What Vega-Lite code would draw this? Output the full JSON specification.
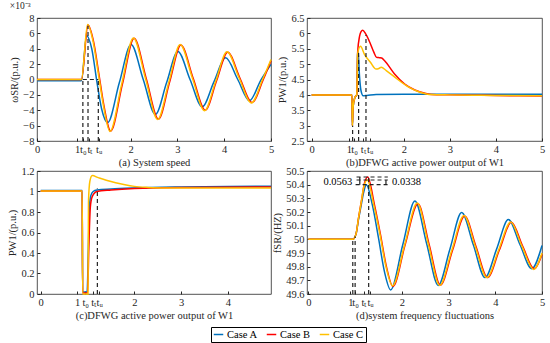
{
"$schema": "https://vega.github.io/schema/vega-lite/v6.json",
"background": "white",
"padding": {"left": 7, "top": 0, "right": 0, "bottom": 0},
"config": {
  "font": "Liberation Serif",
  "view": {"stroke": "#262626", "strokeWidth": 0.8},
  "axis": {"grid": false, "domain": false, "labelFont": "Liberation Serif", "labelFontSize": 10.5, "labelColor": "#262626", "titleFont": "Liberation Serif", "titleFontSize": 10.5, "titleFontWeight": "normal", "titleColor": "#262626", "tickColor": "#262626", "tickSize": -3, "labelPadding": 6, "titlePadding": 3, "labelOverlap": false, "labelFlush": false},
  "title": {"font": "Liberation Serif", "fontWeight": "normal", "fontSize": 9.5, "color": "#262626"}
},
"datasets": {
  "a": [
    {"case":"Case A","x":0,"y":-0.15},{"case":"Case A","x":0.95,"y":-0.15},{"case":"Case A","x":1.06,"y":5.7},{"case":"Case A","x":1.17,"y":4.0},{"case":"Case A","x":1.28,"y":-0.3},{"case":"Case A","x":1.38,"y":-3.8},{"case":"Case A","x":1.51,"y":-5.6},{"case":"Case A","x":1.76,"y":-0.4},{"case":"Case A","x":2.01,"y":4.55},{"case":"Case A","x":2.27,"y":0},{"case":"Case A","x":2.53,"y":-4.55},{"case":"Case A","x":2.77,"y":-0.4},{"case":"Case A","x":3.01,"y":3.65},{"case":"Case A","x":3.27,"y":0},{"case":"Case A","x":3.53,"y":-3.56},{"case":"Case A","x":3.78,"y":-0.3},{"case":"Case A","x":4.03,"y":2.82},{"case":"Case A","x":4.29,"y":0},{"case":"Case A","x":4.54,"y":-2.78},{"case":"Case A","x":4.78,"y":-0.1},{"case":"Case A","x":5.0,"y":1.97},
    {"case":"Case B","x":0,"y":0},{"case":"Case B","x":0.95,"y":0},{"case":"Case B","x":1.09,"y":7.1},{"case":"Case B","x":1.21,"y":4.9},{"case":"Case B","x":1.32,"y":0.8},{"case":"Case B","x":1.43,"y":-3.4},{"case":"Case B","x":1.575,"y":-6.7},{"case":"Case B","x":1.825,"y":-0.6},{"case":"Case B","x":2.075,"y":5.37},{"case":"Case B","x":2.335,"y":0.1},{"case":"Case B","x":2.595,"y":-5.15},{"case":"Case B","x":2.835,"y":-0.3},{"case":"Case B","x":3.075,"y":4.5},{"case":"Case B","x":3.335,"y":0.2},{"case":"Case B","x":3.595,"y":-3.99},{"case":"Case B","x":3.835,"y":-0.2},{"case":"Case B","x":4.075,"y":3.56},{"case":"Case B","x":4.335,"y":0.2},{"case":"Case B","x":4.595,"y":-3.0},{"case":"Case B","x":4.835,"y":0},{"case":"Case B","x":5.0,"y":2.45},
    {"case":"Case C","x":0,"y":0},{"case":"Case C","x":0.95,"y":0},{"case":"Case C","x":1.08,"y":7.15},{"case":"Case C","x":1.2,"y":4.9},{"case":"Case C","x":1.31,"y":0.8},{"case":"Case C","x":1.42,"y":-3.4},{"case":"Case C","x":1.56,"y":-6.75},{"case":"Case C","x":1.81,"y":-0.6},{"case":"Case C","x":2.06,"y":5.4},{"case":"Case C","x":2.32,"y":0.1},{"case":"Case C","x":2.58,"y":-5.2},{"case":"Case C","x":2.82,"y":-0.3},{"case":"Case C","x":3.06,"y":4.55},{"case":"Case C","x":3.32,"y":0.2},{"case":"Case C","x":3.58,"y":-4.05},{"case":"Case C","x":3.82,"y":-0.2},{"case":"Case C","x":4.06,"y":3.6},{"case":"Case C","x":4.32,"y":0.2},{"case":"Case C","x":4.58,"y":-3.05},{"case":"Case C","x":4.82,"y":0},{"case":"Case C","x":5.0,"y":2.6}
  ],
  "av": [{"x":0.98,"y":-8,"y2":0},{"x":1.09,"y":-8,"y2":7.0},{"x":1.31,"y":-8,"y2":0}],
  "ah": [{"x":0.98,"x2":1.31,"y":0}],
  "b": [
    {"case":"Case A","x":0,"y":4.0},{"case":"Case A","x":0.875,"y":4.0},{"case":"Case A","x":0.885,"y":3.0},{"case":"Case A","x":0.9,"y":3.6},{"case":"Case A","x":0.94,"y":3.92},{"case":"Case A","x":0.98,"y":4.0},{"case":"Case A","x":1.0,"y":5.35},{"case":"Case A","x":1.01,"y":5.4},{"case":"Case A","x":1.04,"y":4.6},{"case":"Case A","x":1.07,"y":4.15},{"case":"Case A","x":1.12,"y":3.97},{"case":"Case A","x":1.2,"y":3.98},{"case":"Case A","x":1.4,"y":4.01},{"case":"Case A","x":2.0,"y":4.02},{"case":"Case A","x":3.0,"y":4.02},{"case":"Case A","x":4.0,"y":4.02},{"case":"Case A","x":5.0,"y":4.02},
    {"case":"Case B","x":0,"y":4.0},{"case":"Case B","x":0.875,"y":4.0},{"case":"Case B","x":0.885,"y":3.0},{"case":"Case B","x":0.9,"y":3.6},{"case":"Case B","x":0.94,"y":3.92},{"case":"Case B","x":0.98,"y":4.0},{"case":"Case B","x":1.0,"y":5.4},{"case":"Case B","x":1.04,"y":5.9},{"case":"Case B","x":1.07,"y":6.05},{"case":"Case B","x":1.11,"y":6.1},{"case":"Case B","x":1.17,"y":5.99},{"case":"Case B","x":1.26,"y":5.72},{"case":"Case B","x":1.35,"y":5.39},{"case":"Case B","x":1.41,"y":5.22},{"case":"Case B","x":1.47,"y":5.21},{"case":"Case B","x":1.52,"y":5.2},{"case":"Case B","x":1.58,"y":5.12},{"case":"Case B","x":1.8,"y":4.68},{"case":"Case B","x":2.02,"y":4.35},{"case":"Case B","x":2.24,"y":4.16},{"case":"Case B","x":2.46,"y":4.05},{"case":"Case B","x":2.6,"y":4.01},{"case":"Case B","x":3.0,"y":4.0},{"case":"Case B","x":3.5,"y":3.99},{"case":"Case B","x":4.0,"y":3.98},{"case":"Case B","x":5.0,"y":3.96},
    {"case":"Case C","x":0,"y":4.0},{"case":"Case C","x":0.875,"y":4.0},{"case":"Case C","x":0.885,"y":3.0},{"case":"Case C","x":0.9,"y":3.6},{"case":"Case C","x":0.94,"y":3.92},{"case":"Case C","x":0.98,"y":4.0},{"case":"Case C","x":1.0,"y":5.35},{"case":"Case C","x":1.06,"y":5.58},{"case":"Case C","x":1.15,"y":5.31},{"case":"Case C","x":1.28,"y":5.05},{"case":"Case C","x":1.4,"y":4.84},{"case":"Case C","x":1.46,"y":4.86},{"case":"Case C","x":1.51,"y":4.9},{"case":"Case C","x":1.62,"y":4.79},{"case":"Case C","x":1.87,"y":4.5},{"case":"Case C","x":2.09,"y":4.27},{"case":"Case C","x":2.31,"y":4.11},{"case":"Case C","x":2.49,"y":4.03},{"case":"Case C","x":2.6,"y":4.01},{"case":"Case C","x":3.0,"y":4.0},{"case":"Case C","x":3.5,"y":3.99},{"case":"Case C","x":4.0,"y":3.98},{"case":"Case C","x":5.0,"y":3.97}
  ],
  "bv": [{"x":0.89,"y":2.5,"y2":3.0},{"x":1.02,"y":2.5,"y2":5.4},{"x":1.18,"y":2.5,"y2":5.95}],
  "c": [
    {"case":"Case A","x":0,"y":1.01},{"case":"Case A","x":0.885,"y":1.01},{"case":"Case A","x":0.895,"y":0.02},{"case":"Case A","x":0.99,"y":0.02},{"case":"Case A","x":1.02,"y":0.5},{"case":"Case A","x":1.04,"y":0.85},{"case":"Case A","x":1.07,"y":0.96},{"case":"Case A","x":1.12,"y":1.0},{"case":"Case A","x":1.2,"y":1.015},{"case":"Case A","x":1.5,"y":1.025},{"case":"Case A","x":2.0,"y":1.035},{"case":"Case A","x":3.0,"y":1.045},{"case":"Case A","x":4.0,"y":1.05},{"case":"Case A","x":4.92,"y":1.052},
    {"case":"Case B","x":0,"y":1.005},{"case":"Case B","x":0.885,"y":1.005},{"case":"Case B","x":0.895,"y":0.01},{"case":"Case B","x":1.0,"y":0.01},{"case":"Case B","x":1.03,"y":0.5},{"case":"Case B","x":1.06,"y":0.85},{"case":"Case B","x":1.1,"y":0.95},{"case":"Case B","x":1.2,"y":1.0},{"case":"Case B","x":1.5,"y":1.015},{"case":"Case B","x":2.0,"y":1.03},{"case":"Case B","x":3.0,"y":1.04},{"case":"Case B","x":4.92,"y":1.045},
    {"case":"Case C","x":0,"y":1.005},{"case":"Case C","x":0.885,"y":1.005},{"case":"Case C","x":0.895,"y":0.0},{"case":"Case C","x":1.01,"y":0.0},{"case":"Case C","x":1.02,"y":0.9},{"case":"Case C","x":1.05,"y":1.1},{"case":"Case C","x":1.1,"y":1.155},{"case":"Case C","x":1.23,"y":1.135},{"case":"Case C","x":1.4,"y":1.11},{"case":"Case C","x":1.6,"y":1.085},{"case":"Case C","x":1.8,"y":1.065},{"case":"Case C","x":2.0,"y":1.05},{"case":"Case C","x":2.3,"y":1.04},{"case":"Case C","x":2.7,"y":1.035},{"case":"Case C","x":3.5,"y":1.033},{"case":"Case C","x":4.92,"y":1.033}
  ],
  "cv": [{"x":1.21,"y":0,"y2":1.03}],
  "d": [
    {"case":"Case A","x":0,"y":50.0},{"case":"Case A","x":0.95,"y":50.0},{"case":"Case A","x":1.02,"y":50.04},{"case":"Case A","x":1.07,"y":50.14},{"case":"Case A","x":1.13,"y":50.25},{"case":"Case A","x":1.18,"y":50.34},{"case":"Case A","x":1.24,"y":50.40},{"case":"Case A","x":1.37,"y":50.25},{"case":"Case A","x":1.5,"y":50.01},{"case":"Case A","x":1.63,"y":49.76},{"case":"Case A","x":1.76,"y":49.63},{"case":"Case A","x":2.02,"y":49.96},{"case":"Case A","x":2.28,"y":50.28},{"case":"Case A","x":2.53,"y":49.97},{"case":"Case A","x":2.78,"y":49.663},{"case":"Case A","x":3.03,"y":49.93},{"case":"Case A","x":3.28,"y":50.196},{"case":"Case A","x":3.53,"y":49.96},{"case":"Case A","x":3.78,"y":49.72},{"case":"Case A","x":4.03,"y":49.93},{"case":"Case A","x":4.28,"y":50.145},{"case":"Case A","x":4.53,"y":49.96},{"case":"Case A","x":4.78,"y":49.785},{"case":"Case A","x":5.0,"y":49.955},
    {"case":"Case B","x":0,"y":50.0},{"case":"Case B","x":0.95,"y":50.0},{"case":"Case B","x":1.02,"y":50.04},{"case":"Case B","x":1.07,"y":50.15},{"case":"Case B","x":1.14,"y":50.29},{"case":"Case B","x":1.2,"y":50.41},{"case":"Case B","x":1.27,"y":50.456},{"case":"Case B","x":1.41,"y":50.26},{"case":"Case B","x":1.54,"y":50.04},{"case":"Case B","x":1.67,"y":49.8},{"case":"Case B","x":1.81,"y":49.655},{"case":"Case B","x":2.07,"y":49.96},{"case":"Case B","x":2.345,"y":50.26},{"case":"Case B","x":2.585,"y":49.96},{"case":"Case B","x":2.825,"y":49.665},{"case":"Case B","x":3.085,"y":49.92},{"case":"Case B","x":3.345,"y":50.17},{"case":"Case B","x":3.585,"y":49.95},{"case":"Case B","x":3.835,"y":49.72},{"case":"Case B","x":4.085,"y":49.92},{"case":"Case B","x":4.345,"y":50.125},{"case":"Case B","x":4.585,"y":49.95},{"case":"Case B","x":4.835,"y":49.785},{"case":"Case B","x":5.0,"y":49.89},
    {"case":"Case C","x":0,"y":50.0},{"case":"Case C","x":0.95,"y":50.0},{"case":"Case C","x":1.02,"y":50.04},{"case":"Case C","x":1.07,"y":50.15},{"case":"Case C","x":1.13,"y":50.27},{"case":"Case C","x":1.19,"y":50.39},{"case":"Case C","x":1.26,"y":50.434},{"case":"Case C","x":1.4,"y":50.25},{"case":"Case C","x":1.53,"y":50.04},{"case":"Case C","x":1.66,"y":49.8},{"case":"Case C","x":1.8,"y":49.66},{"case":"Case C","x":2.06,"y":49.96},{"case":"Case C","x":2.33,"y":50.265},{"case":"Case C","x":2.57,"y":49.96},{"case":"Case C","x":2.81,"y":49.663},{"case":"Case C","x":3.07,"y":49.92},{"case":"Case C","x":3.33,"y":50.174},{"case":"Case C","x":3.57,"y":49.95},{"case":"Case C","x":3.82,"y":49.72},{"case":"Case C","x":4.07,"y":49.92},{"case":"Case C","x":4.33,"y":50.126},{"case":"Case C","x":4.57,"y":49.95},{"case":"Case C","x":4.82,"y":49.78},{"case":"Case C","x":5.0,"y":49.9}
  ],
  "dv": [{"x":0.95,"y":49.6,"y2":50.0},{"x":1.0,"y":49.6,"y2":50.02},{"x":1.29,"y":49.6,"y2":50.456}],
  "dh": [{"x":1.03,"x2":1.7,"y":50.456},{"x":1.03,"x2":1.7,"y":50.434},{"x":1.01,"x2":1.7,"y":50.4}],
  "da": [{"x":1.1,"y":50.4,"y2":50.456},{"x":1.66,"y":50.4,"y2":50.434}],
  "dt": [{"x":0.63,"y":50.42,"label":"0.0563"},{"x":2.1,"y":50.42,"label":"0.0338"}]
},
"columns": 2,
"spacing": {"row": 30, "column": 36},
"bounds": "flush",
"concat": [
    {"width": 234, "height": 123,
     "title": {"text": "×10⁻³", "anchor": "start", "offset": 3},
     "encoding": {
       "x": {"field": "x", "type": "quantitative", "scale": {"domain": [0, 5], "nice": false}, "axis": {"values": [0, 0.86, 0.98, 1.12, 1.32, 2, 3, 4, 5], "format": ".2~f", "labelExpr": "datum.value==0.86?'1':datum.value==0.98?'t₀':datum.value==1.12?'tₜ':datum.value==1.32?'tᵤ':datum.label", "title": "(a) System speed"}},
       "y": {"field": "y", "type": "quantitative", "scale": {"domain": [-8, 8], "nice": false}, "axis": {"values": [-8, -6, -4, -2, 0, 2, 4, 6, 8], "format": "d", "title": "ωSR/(p.u.)"}}
     },
     "layer": [
       {"data": {"name": "a"}, "mark": {"type": "line", "strokeWidth": 1.5, "interpolate": "monotone"},
        "encoding": {"color": {"field": "case", "type": "nominal", "scale": {"domain": ["Case A", "Case B", "Case C"], "range": ["#0072BD", "#FF0000", "#FFC000"]},
          "legend": {"title": null, "orient": "none", "legendX": 174, "legendY": 309, "direction": "horizontal", "strokeColor": "#000", "fillColor": "white", "padding": 2, "symbolType": "stroke", "symbolSize": 90, "symbolStrokeWidth": 1.5, "labelFontSize": 10.5, "labelFont": "Liberation Serif", "labelColor": "#000", "columnPadding": 5, "labelOffset": 3}}}},
       {"data": {"name": "av"}, "mark": {"type": "rule", "strokeDash": [4, 3], "color": "#222", "strokeWidth": 1.2}, "encoding": {"y2": {"field": "y2"}}},
       {"data": {"name": "ah"}, "mark": {"type": "rule", "strokeDash": [4, 3], "color": "#222", "strokeWidth": 1.2}, "encoding": {"x2": {"field": "x2"}}}
     ]},
    {"width": 235, "height": 123,
     "encoding": {
       "x": {"field": "x", "type": "quantitative", "scale": {"domain": [-0.1, 5], "nice": false}, "axis": {"values": [0, 0.81, 0.92, 1.11, 1.26, 2, 3, 4, 5], "format": ".2~f", "labelExpr": "datum.value==0.81?'1':datum.value==0.92?'t₀':datum.value==1.11?'tₜ':datum.value==1.26?'tᵤ':datum.label", "title": "(b)DFWG active power output of W1"}},
       "y": {"field": "y", "type": "quantitative", "scale": {"domain": [2.5, 6.5], "nice": false}, "axis": {"values": [2.5, 3, 3.5, 4, 4.5, 5, 5.5, 6, 6.5], "format": ".1~f", "title": "PW1/(p.u.)"}}
     },
     "layer": [
       {"data": {"name": "b"}, "mark": {"type": "line", "strokeWidth": 1.5, "interpolate": "monotone"},
        "encoding": {"color": {"field": "case", "type": "nominal", "scale": {"domain": ["Case A", "Case B", "Case C"], "range": ["#0072BD", "#FF0000", "#FFC000"]}, "legend": null}}},
       {"data": {"name": "bv"}, "mark": {"type": "rule", "strokeDash": [4, 3], "color": "#222", "strokeWidth": 1.2}, "encoding": {"y2": {"field": "y2"}}}
     ]},
    {"width": 234, "height": 123,
     "encoding": {
       "x": {"field": "x", "type": "quantitative", "scale": {"domain": [-0.08, 4.92], "nice": false}, "axis": {"values": [0, 0.78, 0.95, 1.12, 1.25, 2, 3, 4], "format": ".2~f", "labelExpr": "datum.value==0.78?'1':datum.value==0.95?'t₀':datum.value==1.12?'tₜ':datum.value==1.25?'tᵤ':datum.label", "title": "(c)DFWG active power output of W1"}},
       "y": {"field": "y", "type": "quantitative", "scale": {"domain": [0, 1.2], "nice": false}, "axis": {"values": [0, 0.2, 0.4, 0.6, 0.8, 1, 1.2], "format": ".1~f", "title": "PW1/(p.u.)"}}
     },
     "layer": [
       {"data": {"name": "c"}, "mark": {"type": "line", "strokeWidth": 1.5, "interpolate": "monotone"},
        "encoding": {"color": {"field": "case", "type": "nominal", "scale": {"domain": ["Case A", "Case B", "Case C"], "range": ["#0072BD", "#FF0000", "#FFC000"]}, "legend": null}}},
       {"data": {"name": "cv"}, "mark": {"type": "rule", "strokeDash": [4, 3], "color": "#222", "strokeWidth": 1.2}, "encoding": {"y2": {"field": "y2"}}}
     ]},
    {"width": 235, "height": 123,
     "encoding": {
       "x": {"field": "x", "type": "quantitative", "scale": {"domain": [-0.03, 5], "nice": false}, "axis": {"values": [0, 0.9, 1.0, 1.18, 1.32, 2, 3, 4, 5], "format": ".2~f", "labelExpr": "datum.value==0.9?'1':datum.value==1?'t₀':datum.value==1.18?'tₜ':datum.value==1.32?'tᵤ':datum.label", "title": "(d)system frequency fluctuations"}},
       "y": {"field": "y", "type": "quantitative", "scale": {"domain": [49.6, 50.5], "nice": false}, "axis": {"values": [49.6, 49.7, 49.8, 49.9, 50, 50.1, 50.2, 50.3, 50.4, 50.5], "format": ".1~f", "title": "fSR/(HZ)"}}
     },
     "layer": [
       {"data": {"name": "d"}, "mark": {"type": "line", "strokeWidth": 1.5, "interpolate": "monotone"},
        "encoding": {"color": {"field": "case", "type": "nominal", "scale": {"domain": ["Case A", "Case B", "Case C"], "range": ["#0072BD", "#FF0000", "#FFC000"]}, "legend": null}}},
       {"data": {"name": "dv"}, "mark": {"type": "rule", "strokeDash": [4, 3], "color": "#222", "strokeWidth": 1.2}, "encoding": {"y2": {"field": "y2"}}},
       {"data": {"name": "dh"}, "mark": {"type": "rule", "strokeDash": [4, 3], "color": "#222", "strokeWidth": 1.2}, "encoding": {"x2": {"field": "x2"}}},
       {"data": {"name": "da"}, "mark": {"type": "rule", "color": "#222", "strokeWidth": 1.2}, "encoding": {"y2": {"field": "y2"}}},
       {"data": {"name": "dt"}, "mark": {"type": "text", "fontSize": 10.5, "font": "Liberation Serif", "color": "#000"}, "encoding": {"text": {"field": "label"}}}
     ]}
]
}
